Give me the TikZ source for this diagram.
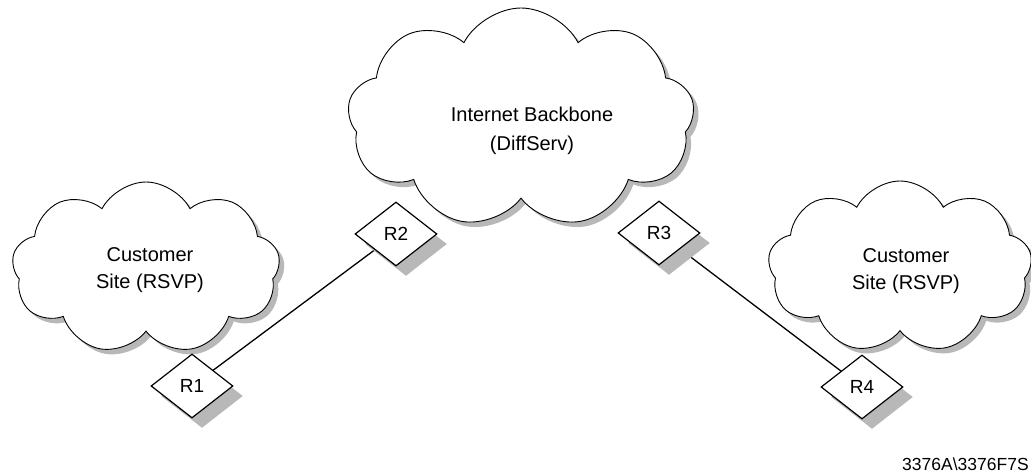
\documentclass[tikz,border=0pt]{standalone}
\usepackage{fontspec}
\setmainfont{Liberation Sans}
\usetikzlibrary{shapes.symbols,shapes.geometric,shadows}
\begin{document}
\begin{tikzpicture}[x=1pt,y=-1pt,
  cloudbox/.style={cloud, cloud puffs=9, cloud puff arc=125, cloud ignores aspect,
    draw=black, line width=0.9pt, fill=white, inner sep=0pt,
    drop shadow={shadow xshift=5pt, shadow yshift=-5pt, fill=black!28, opacity=1}},
  router/.style={diamond, draw=black, line width=1.2pt, fill=white, inner sep=0pt,
    minimum width=82pt, minimum height=64pt,
    font=\fontsize{19}{22}\selectfont,
    drop shadow={shadow xshift=10pt, shadow yshift=-10pt, fill=black!28, opacity=1}},
  link/.style={draw=black, line width=1.3pt},
  label/.style={align=center, inner sep=0pt}]
\useasboundingbox (0,0) rectangle (1031,472);
% routers positions
\coordinate (p1) at (192,386);
\coordinate (p2) at (396,234);
\coordinate (p3) at (659,233);
\coordinate (p4) at (862,387);
% links drawn first (under everything)
\draw[link] (p1) -- (p2);
\draw[link] (p3) -- (p4);
% clouds
\node[cloudbox, minimum width=347pt, minimum height=220pt, shape border rotate=10] (bb) at (521,118) {};
\node[cloudbox, minimum width=268pt, minimum height=172pt, shape border rotate=5] (cl) at (146,268) {};
\node[cloudbox, minimum width=264pt, minimum height=172pt, shape border rotate=5] (cr) at (900,267) {};
% cloud labels
\node[label, font=\fontsize{20}{29}\selectfont] (bbt) at (532,131) {Internet Backbone\\(DiffServ)};
\node[label, font=\fontsize{20}{27}\selectfont] (clt) at (150,270) {Customer\\Site (RSVP)};
\node[label, font=\fontsize{20}{27}\selectfont] (crt) at (906,271) {Customer\\Site (RSVP)};
% routers
\node[router] (R1) at (p1) {R1};
\node[router] (R2) at (p2) {R2};
\node[router] (R3) at (p3) {R3};
\node[router] (R4) at (p4) {R4};
% footer
\node[anchor=base west, inner sep=0pt, font=\fontsize{17.5}{20}\selectfont] (ft) at (902,470) {3376A\textbackslash 3376F7S};
\end{tikzpicture}
\end{document}
